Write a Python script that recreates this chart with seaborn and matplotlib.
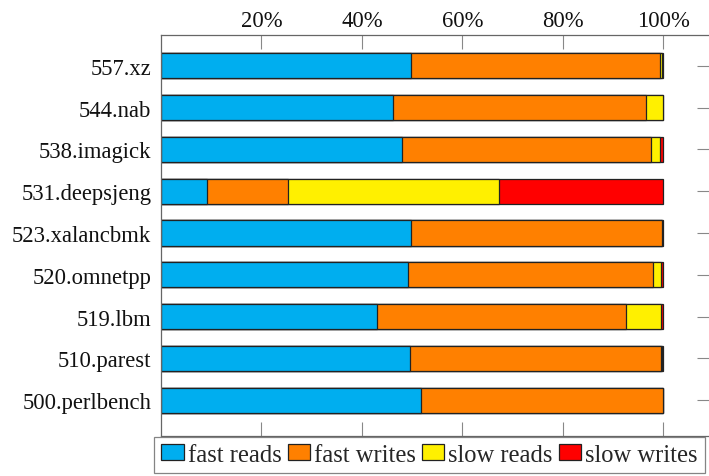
import numpy as np
import pandas as pd
import matplotlib
matplotlib.use("Agg")
import matplotlib.pyplot as plt
import seaborn as sns
from matplotlib.patches import Patch

benchmarks = ["557.xz", "544.nab", "538.imagick", "531.deepsjeng", "523.xalancbmk",
              "520.omnetpp", "519.lbm", "510.parest", "500.perlbench"]
fast_reads = [49.8, 46.2, 48.0, 9.2, 49.8, 49.2, 43.0, 49.6, 51.8]
fast_writes = [49.6, 50.3, 49.5, 16.0, 50.0, 48.7, 49.6, 49.9, 48.2]
slow_reads = [0.3, 3.5, 1.8, 42.0, 0.0, 1.6, 7.0, 0.2, 0.0]
slow_writes = [0.3, 0.0, 0.7, 32.8, 0.2, 0.5, 0.4, 0.3, 0.0]
series_names = ["fast reads", "fast writes", "slow reads", "slow writes"]
series_colors = ["#00AEEF", "#FF8000", "#FFF000", "#FF0000"]
x_ticks = [20, 40, 60, 80, 100]

sns.set_theme(style="white")
plt.rcParams["font.family"] = ["Liberation Serif", "DejaVu Serif"]

fig = plt.figure(figsize=(7.09, 4.77), dpi=100)
W, H = 709, 477
ax = fig.add_axes([161 / W, 1 - 437 / H, 550 / W, (437 - 36) / H])

values = np.array([fast_reads, fast_writes, slow_reads, slow_writes])
cumulative = np.cumsum(values, axis=0)

# stacked bars: draw running totals from the longest to the shortest
for i in range(len(series_names) - 1, -1, -1):
    df = pd.DataFrame({"benchmark": benchmarks, "value": cumulative[i]})
    sns.barplot(data=df, y="benchmark", x="value", orient="h", ax=ax,
                color=series_colors[i], saturation=1, width=0.6,
                edgecolor="#222222", linewidth=0.9)

ax.set_xlim(0, 109.5)
ax.set_ylim(8.86, -0.74)
ax.set_xlabel("")
ax.set_ylabel("")

fs = 16.3
ax.set_xticks(x_ticks)
ax.set_xticklabels([f"{t}%" for t in x_ticks])
ax.tick_params(axis="x", which="both", direction="in", top=True, bottom=True,
               labeltop=True, labelbottom=False, length=10, width=0.8,
               color="#888888", labelsize=fs, pad=3, labelcolor="#111111")
ax.tick_params(axis="y", which="both", direction="in", left=False, right=True,
               labelleft=True, length=10, width=0.8, color="#888888",
               labelsize=fs, pad=7, labelcolor="#111111")
for s in ax.spines.values():
    s.set_color("#666666")
    s.set_linewidth(0.9)

handles = [Patch(facecolor=c, edgecolor="#222222", linewidth=0.9, label=n)
           for n, c in zip(series_names, series_colors)]
leg = fig.legend(handles=handles, loc="upper left",
                 bbox_to_anchor=(154 / W, 1 - 437.5 / H), ncol=4,
                 frameon=True, fancybox=False, fontsize=17.7,
                 handlelength=0.9, handleheight=0.65, handletextpad=0.17,
                 columnspacing=0.25, borderpad=0.3, borderaxespad=0)
leg.get_frame().set_edgecolor("#666666")
leg.get_frame().set_linewidth(0.9)

fig.savefig("out.png", dpi=100)
